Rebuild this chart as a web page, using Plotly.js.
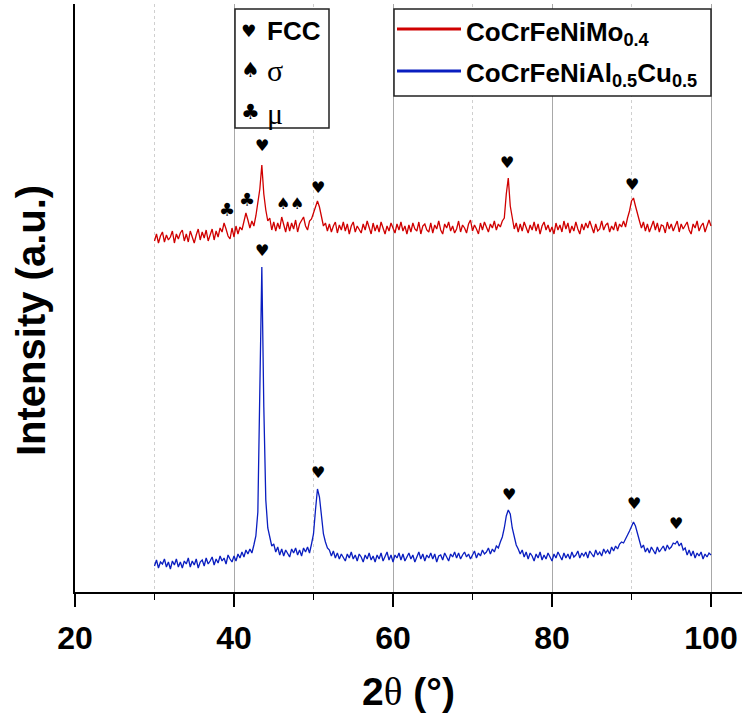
<!DOCTYPE html>
<html>
<head>
<meta charset="utf-8">
<script src="https://cdn.plot.ly/plotly-3.0.1.min.js"></script>
<style>html,body{margin:0;padding:0;background:#fff;}#chart{width:742px;height:716px;}</style>
</head>
<body>
<div id="chart"></div>
<script>
// ---- data ----
const twoThetaStart = 30;
const twoThetaStep = 0.25;

// CoCrFeNiMo0.4 (upper pattern, stacked)
const redIntensity = [
  351,358,349,356, 360,350,357,352, 355,361,349,358, 353,359,362,351, 358,350,361,355,
  349,357,363,352, 360,354,362,351, 357,363,352,361, 355,364,360,369, 363,356,353,364,
  355,366,358,365, 362,370,379,372, 364,371,366,376, 388,403,427,398, 382,371,374,362,
  370,361,369,363, 375,366,360,370, 361,369,363,372, 360,368,371,375, 366,362,371,373,
  379,385,391,385, 375,366,369,361, 368,360,366,370, 359,367,362,370, 361,368,358,366,
  370,360,366,363, 359,368,362,371, 364,358,369,361, 367,360,370,363, 358,366,361,369,
  364,359,368,362, 370,361,366,358, 367,360,369,363, 361,370,358,366, 368,362,360,369,
  359,367,363,371, 362,358,368,364, 370,361,366,359, 363,371,360,367, 364,359,368,372,
  361,367,363,358, 369,362,370,364, 360,368,364,371, 362,368,365,371, 374,398,414,386,
  372,363,369,360, 368,361,370,364, 359,367,362,370, 361,368,358,366, 370,362,367,360,
  365,358,369,362, 367,360,371,363, 369,359,366,361, 370,363,358,368, 362,369,364,371,
  366,359,368,361, 363,371,362,367, 369,360,366,362, 370,361,368,365, 371,365,374,381,
  391,394,386,377, 371,364,370,361, 368,360,366,371, 362,369,360,367, 366,359,370,363,
  368,361,366,371, 360,368,363,367, 370,362,358,368, 364,371,361,366, 369,360,367,372,
  366
];

// CoCrFeNiAl0.5Cu0.5 (lower pattern)
const blueIntensity = [
  26,32,24,30, 28,33,25,30, 23,31,27,33, 25,30,24,31, 28,34,25,31,
  27,33,24,30, 32,26,34,28, 31,35,27,33, 29,36,31,34, 28,37,33,30,
  36,31,38,34, 40,35,42,38, 43,39,47,56, 80,190,325,185, 92,64,54,46,
  48,40,45,37, 43,36,42,38, 35,43,39,44, 37,42,36,44, 40,45,39,48,
  58,82,103,95, 74,58,50,44, 42,36,41,34, 39,33,38,35, 31,38,34,40,
  33,37,31,38, 35,30,37,33, 39,32,36,30, 37,33,39,31, 35,40,32,37,
  30,37,34,39, 32,38,31,36, 39,33,37,30, 36,40,33,38, 31,37,34,39,
  33,38,30,36, 37,32,39,34, 31,38,35,40, 34,39,33,37, 40,35,38,33,
  37,41,34,39, 36,42,38,40, 44,38,43,40, 46,44,50,55, 64,76,82,78,
  64,54,47,43, 38,42,35,40, 33,39,36,31, 38,34,40,32, 37,33,39,35,
  31,38,34,40, 36,32,39,34, 38,33,40,35, 37,41,34,39, 36,40,34,41,
  38,35,42,37, 40,36,43,39, 42,38,45,41, 46,43,48,50, 49,54,57,61,
  66,70,66,58, 51,44,47,40, 44,39,45,41, 38,45,40,43, 46,41,47,43,
  45,49,48,51, 46,49,42,44, 37,42,36,41, 34,39,36,40, 33,38,35,39,
  37
];

const seriesNames = ['CoCrFeNiMo<sub>0.4</sub>', 'CoCrFeNiAl<sub>0.5</sub>Cu<sub>0.5</sub>'];
const seriesColors = ['#d00000', '#0a1ec0'];

// phase markers: position (2θ, intensity) and symbol
const markerTwoTheta  = [39.1, 41.6, 43.5, 46.1, 47.9, 50.6, 74.4, 90.1, 43.5, 50.6, 74.6, 90.3, 95.6];
const markerIntensity = [383, 393, 447, 389, 389, 405, 430, 408, 342, 120, 98, 89, 69];
const markerSymbol    = ['♣','♣','♥','♠','♠','♥','♥','♥','♥','♥','♥','♥','♥'];

const phaseSymbols = ['♥', '♠', '♣'];
const phaseLabels  = ['FCC', 'σ', 'μ'];

const xTickVals = [20, 40, 60, 80, 100];

// ---- layout helpers ----
const W = 742, H = 716, ML = 75, MR = 0, MT = 4, MB = 124;
const PW = W - ML - MR, PH = H - MT - MB;
const px = v => (v - ML) / PW;
const py = v => (H - MB - v) / PH;

const twoTheta = redIntensity.map((_, i) => twoThetaStart + i * twoThetaStep);

const traces = [redIntensity, blueIntensity].map((ys, k) => ({
  type: 'scatter', mode: 'lines', x: twoTheta, y: ys,
  name: seriesNames[k], line: {color: seriesColors[k], width: 1.3},
  showlegend: false, hoverinfo: 'skip'
}));

const annotations = [];
markerTwoTheta.forEach((x, i) => annotations.push({
  x: x, y: markerIntensity[i], xref: 'x', yref: 'y', text: markerSymbol[i],
  showarrow: false, xanchor: 'center', yanchor: 'middle', borderpad: 0,
  font: {family: 'DejaVu Sans', size: markerSymbol[i] === '♥' ? 16 : (markerSymbol[i] === '♠' ? 16 : 18), color: '#000'}
}));

// y title
annotations.push({
  xref: 'paper', yref: 'paper', x: px(31), y: py(321), text: 'Intensity (a.u.)',
  textangle: -90, showarrow: false, xanchor: 'center', yanchor: 'middle',
  font: {family: 'Liberation Sans, Arial', size: 40, weight: 'bold', color: '#000'}
});

// phase key box
const phaseRowsY = [31, 70, 112];
phaseSymbols.forEach((s, i) => {
  annotations.push({xref: 'paper', yref: 'paper', x: px(239), y: py(phaseRowsY[i]), text: s,
    showarrow: false, xanchor: 'left', yanchor: 'middle',
    font: {family: 'DejaVu Sans', size: i === 0 ? 17 : 21, color: '#000'}});
  annotations.push({xref: 'paper', yref: 'paper', x: px(265), y: py(phaseRowsY[i] + (i === 0 ? 0 : 1)), text: phaseLabels[i],
    showarrow: false, xanchor: 'left', yanchor: 'middle',
    font: i === 0 ? {family: 'Liberation Sans, Arial', size: 26, weight: 'bold', color: '#000'}
                  : {family: 'Liberation Serif, Times New Roman', size: 30, color: '#000'}});
});

// series key box
const keyRowsY = [29, 71];
const shapes = [
  {type: 'rect', xref: 'paper', yref: 'paper', x0: px(235), x1: px(329), y0: py(128), y1: py(9),
   line: {color: '#222', width: 1.5}, fillcolor: '#fff', layer: 'above'},
  {type: 'rect', xref: 'paper', yref: 'paper', x0: px(394), x1: px(711), y0: py(96), y1: py(9),
   line: {color: '#222', width: 1.5}, fillcolor: '#fff', layer: 'above'}
];
keyRowsY.forEach((yy, k) => {
  shapes.push({type: 'line', xref: 'paper', yref: 'paper', x0: px(397), x1: px(461), y0: py(yy), y1: py(yy),
    line: {color: seriesColors[k], width: 3}, layer: 'above'});
  annotations.push({xref: 'paper', yref: 'paper', x: px(464), y: py(yy + 4), text: seriesNames[k],
    showarrow: false, xanchor: 'left', yanchor: 'middle',
    font: {family: 'Liberation Sans, Arial', size: 26, weight: 'bold', color: '#000'}});
});

const layout = {
  width: W, height: H,
  margin: {l: ML, r: MR, t: MT, b: MB, pad: 0},
  paper_bgcolor: '#fff', plot_bgcolor: '#fff',
  showlegend: false,
  xaxis: {
    range: [20, 20 + PW / 7.95],
    tickvals: xTickVals, ticktext: xTickVals.map(String),
    ticks: 'outside', ticklen: 13, tickwidth: 2, tickcolor: '#000',
    showline: true, linewidth: 2, linecolor: '#000',
    showgrid: true, gridcolor: '#a8a8a8', gridwidth: 1,
    zeroline: false,
    minor: {dtick: 10, tick0: 20, ticks: 'outside', ticklen: 6, tickwidth: 1.5, tickcolor: '#000',
            showgrid: true, gridcolor: '#cfcfcf', gridwidth: 1, griddash: 'dot'},
    tickfont: {family: 'Liberation Sans, Arial', size: 32, weight: 'bold', color: '#000'},
    ticklabelstandoff: 4,
    title: {text: '2<span style="font-family:\'Liberation Serif\';font-weight:normal">θ</span> (°)',
            font: {family: 'Liberation Sans, Arial', size: 39, weight: 'bold', color: '#000'}, standoff: 22}
  },
  yaxis: {
    range: [0, PH], showline: true, linewidth: 2, linecolor: '#000',
    showticklabels: false, ticks: '', showgrid: false, zeroline: false
  },
  annotations: annotations,
  shapes: shapes
};

Plotly.newPlot('chart', traces, layout, {displayModeBar: false, staticPlot: true});
</script>
</body>
</html>
